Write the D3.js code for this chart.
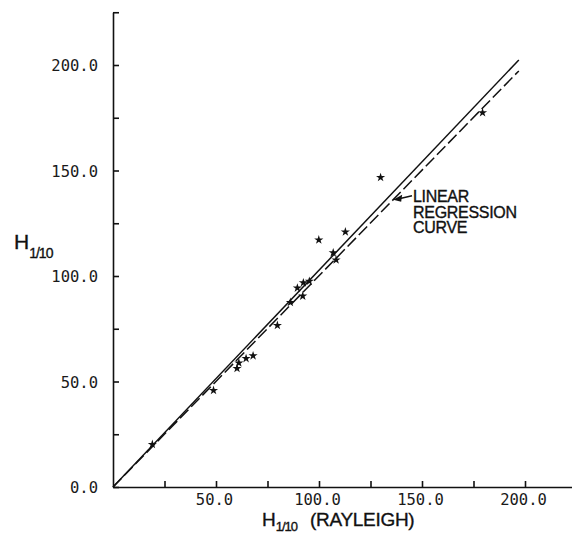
<!DOCTYPE html>
<html>
<head>
<meta charset="utf-8">
<script src="https://cdn.jsdelivr.net/npm/d3@7"></script>
<style>
    body { margin: 0; background: #fff; }
    svg { display: block; }
    .tick-label text { font-family: "DejaVu Sans Mono", monospace; font-size: 15.5px; fill: #1a1a1a; }
    .title { font-family: "Liberation Sans", Arial, sans-serif; fill: #111; stroke: #111; stroke-width: 0.35px; }
</style>
</head>
<body>
<svg></svg>
<script>
let width = 572;
let height = 533;

// measured points, H 1/10 (rayleigh) vs H 1/10
let rayleighH = [19.1, 48.8, 60.2, 61.1, 64.6, 68.0, 79.8, 86.1, 89.5, 92.1,
                 92.4, 95.3, 99.9, 106.9, 108.3, 112.8, 129.9, 179.4];
let measuredH = [20.2, 45.8, 56.2, 58.8, 60.9, 62.2, 76.6, 87.5, 94.3, 90.5,
                 96.8, 97.5, 117.1, 111.0, 107.6, 120.9, 146.7, 177.4];

// the two straight lines (solid and dashed regression)
let lineX = [0, 197];
let solidY = [0, 202.4];
let regressionY = [0, 197.2];

let tickValues = [0, 25, 50, 75, 100, 125, 150, 175, 200, 225];
let labelValues = [0, 50, 100, 150, 200];
let noteLines = ["LINEAR", "REGRESSION", "CURVE"];

let svg = d3.select("svg")
    .attr("width", width)
    .attr("height", height);

let scaleX = d3.scaleLinear().domain([0, 225]).range([113, 576.5]);
let scaleY = d3.scaleLinear().domain([0, 225]).range([487, 12.25]);

let fmt = d => labelValues.includes(d) ? d3.format(".1f")(d) : "";

// y axis, ticks point inwards
let gy = svg.append("g")
    .attr("class", "tick-label")
    .attr("transform", `translate(${scaleX(0)}, 0)`)
    .call(d3.axisLeft(scaleY)
        .tickValues(tickValues)
        .tickSizeInner(-6)
        .tickSizeOuter(0)
        .tickPadding(15)
        .tickFormat(fmt));
gy.attr("font-family", null).attr("font-size", null);
gy.selectAll("text").attr("dy", "0.36em");

// x axis
let gx = svg.append("g")
    .attr("class", "tick-label")
    .attr("transform", `translate(0, ${scaleY(0)})`)
    .call(d3.axisBottom(scaleX)
        .tickValues(tickValues.filter(d => d > 0))
        .tickSizeInner(-6)
        .tickSizeOuter(0)
        .tickPadding(7)
        .tickFormat(d => d === 0 ? "" : fmt(d)));
gx.attr("font-family", null).attr("font-size", null);
gx.selectAll("text").attr("dx", "-2px");

svg.selectAll(".domain, .tick line")
    .attr("stroke", "#111")
    .attr("stroke-width", 1.6);

// lines
let lineData = lineX.map((x, i) => ({x: x, s: solidY[i], r: regressionY[i]}));

svg.append("path")
    .datum(lineData)
    .attr("d", d3.line().x(d => scaleX(d.x)).y(d => scaleY(d.s)))
    .attr("fill", "none")
    .attr("stroke", "#111")
    .attr("stroke-width", 1.5);

svg.append("path")
    .datum(lineData)
    .attr("d", d3.line().x(d => scaleX(d.x)).y(d => scaleY(d.r)))
    .attr("fill", "none")
    .attr("stroke", "#111")
    .attr("stroke-width", 1.5)
    .attr("stroke-dasharray", "12,4");

// star markers
svg.append("g")
    .selectAll("path")
    .data(rayleighH)
    .enter()
    .append("path")
    .attr("d", d3.symbol().type(d3.symbolStar).size(26))
    .attr("transform", (d, i) => `translate(${scaleX(d)}, ${scaleY(measuredH[i])})`)
    .attr("fill", "#111");

// annotation with arrow pointing to the dashed line
let tipValue = 136;
let tipX = scaleX(tipValue);
let tipY = scaleY(tipValue * regressionY[1] / lineX[1]);

svg.append("line")
    .attr("x1", tipX + 6)
    .attr("y1", tipY - 1)
    .attr("x2", 412)
    .attr("y2", tipY - 4)
    .attr("stroke", "#111")
    .attr("stroke-width", 1.4);

svg.append("path")
    .attr("d", `M${tipX},${tipY} L${tipX + 9},${tipY - 5} L${tipX + 8},${tipY + 2} Z`)
    .attr("fill", "#111");

svg.append("g")
    .selectAll("text")
    .data(noteLines)
    .enter()
    .append("text")
    .attr("class", "title")
    .attr("x", 413)
    .attr("y", (d, i) => 202 + i * 15.5)
    .attr("font-size", "16px")
    .attr("letter-spacing", "-0.3")
    .text(d => d);

// axis titles
let yTitle = svg.append("text")
    .attr("class", "title")
    .attr("x", 14)
    .attr("y", 249)
    .attr("font-size", "21px");
yTitle.append("tspan").text("H");
yTitle.append("tspan")
    .attr("font-size", "14px")
    .attr("dy", "9")
    .attr("letter-spacing", "-1")
    .text("1/10");

let xTitle = svg.append("text")
    .attr("class", "title")
    .attr("x", 262)
    .attr("y", 526)
    .attr("font-size", "19px");
xTitle.append("tspan").text("H");
xTitle.append("tspan")
    .attr("font-size", "13px")
    .attr("dy", "5")
    .attr("letter-spacing", "-1")
    .text("1/10");
xTitle.append("tspan")
    .attr("x", 310)
    .attr("y", 526)
    .attr("letter-spacing", "-0.3")
    .text("(RAYLEIGH)");
</script>
</body>
</html>
